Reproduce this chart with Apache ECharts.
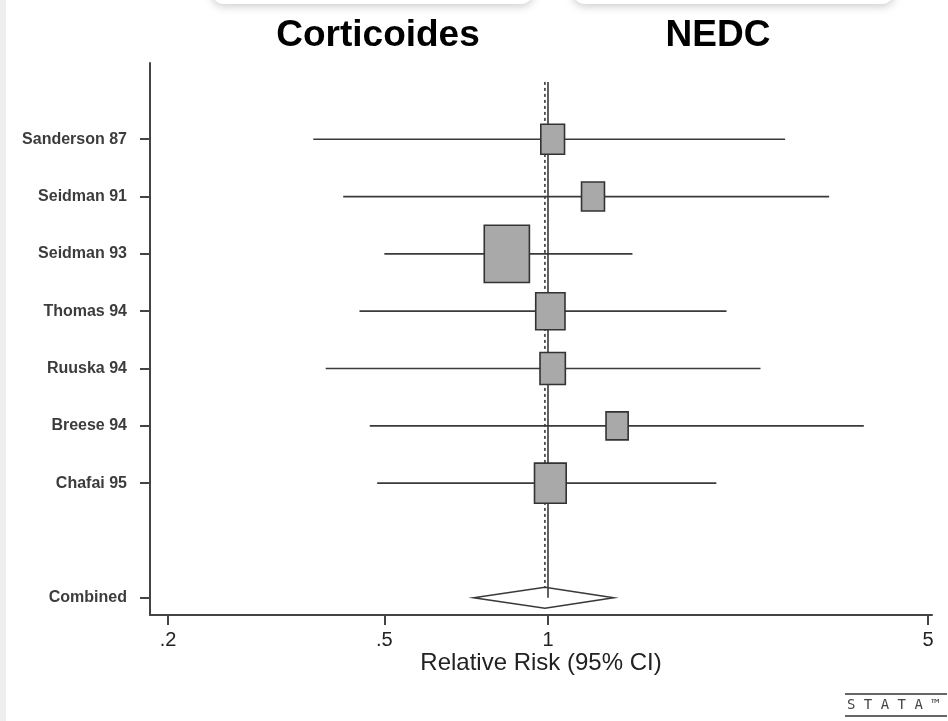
<!DOCTYPE html>
<html><head><meta charset="utf-8">
<script src="https://cdn.jsdelivr.net/npm/echarts@6/dist/echarts.min.js"></script>
<style>html,body{margin:0;padding:0;background:#fff}#c{width:948px;height:721px}</style>
</head><body><div id="c"></div>
<script>
// ---- data ----
const studies = ['Sanderson 87','Seidman 91','Seidman 93','Thomas 94','Ruuska 94','Breese 94','Chafai 95'];
const rr     = [1.02, 1.21, 0.84, 1.01, 1.02, 1.34, 1.01];
const ciLow  = [0.37, 0.42, 0.50, 0.45, 0.39, 0.47, 0.485];
const ciHigh = [2.73, 3.29, 1.43, 2.13, 2.46, 3.81, 2.04];
const weights = [9.2, 8.6, 33.3, 14.0, 10.5, 8.0, 16.4];
const rowPos = [1, 2, 3, 4, 5, 6, 7];
const combinedLabel = 'Combined';
const combinedPos = 9;
const combinedRR = 0.987, combinedLow = 0.73, combinedHigh = 1.32;
const nullValue = 1;
const xTicks = [0.2, 0.5, 1, 5];
const xTickLabels = ['.2', '.5', '1', '5'];
const panelTitles = ['Corticoides', 'NEDC'];
const xAxisTitle = 'Relative Risk (95% CI)';

// ---- chart ----
const BOX_K = 9.9, BOX_ASPECT = 0.79, DIAMOND_HALF_H = 10.5;
const yLabelMap = {};
rowPos.forEach((p, i) => yLabelMap[p] = studies[i]);
yLabelMap[combinedPos] = combinedLabel;
const yTickVals = rowPos.concat([combinedPos]);

const chart = echarts.init(document.getElementById('c'), null, {renderer: 'canvas'});
const ink = '#3a3a3a';

chart.setOption({
  animation: false,
  backgroundColor: '#fff',
  grid: {left: 150, right: 16, top: 63, bottom: 106},
  xAxis: {
    type: 'log', logBase: 10, min: 0.1853, max: 5.086,
    axisLine: {show: true, onZero: false, lineStyle: {color: '#444', width: 2}},
    axisTick: {show: true, length: 10, customValues: xTicks, lineStyle: {color: '#444', width: 2}},
    axisLabel: {customValues: xTicks, fontSize: 20, color: '#222', margin: 15, fontFamily: 'Liberation Sans, Arial, sans-serif',
      formatter: v => xTickLabels[xTicks.findIndex(t => Math.abs(t - v) < 1e-6)] ?? ''},
    splitLine: {show: false}, minorTick: {show: false},
    name: xAxisTitle, nameLocation: 'middle', nameGap: 36, nameMoveOverlap: false,
    nameTextStyle: {fontSize: 24, color: '#222', fontFamily: 'Liberation Sans, Arial, sans-serif'}
  },
  yAxis: {
    type: 'value', inverse: true, min: -0.33, max: 9.3,
    axisLine: {show: true, onZero: false, lineStyle: {color: '#444', width: 2}},
    axisTick: {show: true, length: 10, customValues: yTickVals, lineStyle: {color: '#444', width: 2}},
    axisLabel: {customValues: yTickVals, fontSize: 16, fontWeight: 'bold', color: '#3c3c3c', margin: 23,
      fontFamily: 'Liberation Sans, Arial, sans-serif', formatter: v => yLabelMap[Math.round(v)] || ''},
    splitLine: {show: false}
  },
  graphic: [
    {type: 'rect', left: 0, top: 0, shape: {width: 6, height: 721}, style: {fill: '#eeeeee'}, silent: true},
    {type: 'rect', x: 212, y: -36, shape: {width: 321, height: 40, r: 12}, style: {fill: '#fff', shadowBlur: 10, shadowColor: 'rgba(0,0,0,0.22)', shadowOffsetY: 2}, silent: true},
    {type: 'rect', x: 573, y: -36, shape: {width: 321, height: 40, r: 12}, style: {fill: '#fff', shadowBlur: 10, shadowColor: 'rgba(0,0,0,0.22)', shadowOffsetY: 2}, silent: true},
    {type: 'text', x: 378, y: 36, style: {text: panelTitles[0], fontSize: 37, fontWeight: 'bold', fill: '#000', align: 'center', verticalAlign: 'middle', fontFamily: 'Liberation Sans, Arial, sans-serif'}},
    {type: 'text', x: 718, y: 36, style: {text: panelTitles[1], fontSize: 37, fontWeight: 'bold', fill: '#000', align: 'center', verticalAlign: 'middle', fontFamily: 'Liberation Sans, Arial, sans-serif'}},
    {type: 'line', shape: {x1: 845, y1: 694, x2: 947, y2: 694}, style: {stroke: '#666', lineWidth: 2}},
    {type: 'line', shape: {x1: 845, y1: 716, x2: 947, y2: 716}, style: {stroke: '#666', lineWidth: 2}},
    {type: 'text', x: 847, y: 705, style: {text: 'S T A T A ™', fontSize: 14, fill: '#444', verticalAlign: 'middle', fontFamily: 'DejaVu Sans Mono, monospace'}}
  ],
  series: [
    {
      type: 'line', silent: true, symbol: 'none', z: 1,
      lineStyle: {color: ink, width: 1.6},
      data: [[nullValue, 0], [nullValue, combinedPos]]
    },
    {
      type: 'line', silent: true, symbol: 'none', z: 1,
      lineStyle: {color: ink, width: 1.6, type: [3, 3]},
      data: [[combinedRR, 0], [combinedRR, combinedPos - 0.18]]
    },
    {
      type: 'custom', z: 3,
      encode: {x: [0, 1, 2], y: 3},
      data: studies.map((s, i) => [ciLow[i], ciHigh[i], rr[i], rowPos[i], weights[i]]),
      renderItem: function (params, api) {
        const lo = api.coord([api.value(0), api.value(3)]);
        const hi = api.coord([api.value(1), api.value(3)]);
        const c = api.coord([api.value(2), api.value(3)]);
        const h = BOX_K * Math.sqrt(api.value(4));
        const w = h * BOX_ASPECT;
        return {type: 'group', children: [
          {type: 'line', shape: {x1: lo[0], y1: lo[1], x2: hi[0], y2: hi[1]}, style: {stroke: ink, lineWidth: 1.7}},
          {type: 'rect', shape: {x: c[0] - w / 2, y: c[1] - h / 2, width: w, height: h}, style: {fill: '#a9a9a9', stroke: '#333', lineWidth: 1.6}}
        ]};
      }
    },
    {
      type: 'custom', z: 3,
      encode: {x: [0, 1, 2], y: 3},
      data: [[combinedLow, combinedHigh, combinedRR, combinedPos]],
      renderItem: function (params, api) {
        const lo = api.coord([api.value(0), api.value(3)]);
        const hi = api.coord([api.value(1), api.value(3)]);
        const c = api.coord([api.value(2), api.value(3)]);
        return {type: 'polygon', shape: {points: [[lo[0], lo[1]], [c[0], c[1] - DIAMOND_HALF_H], [hi[0], hi[1]], [c[0], c[1] + DIAMOND_HALF_H]]},
          style: {fill: 'rgba(255,255,255,0)', stroke: ink, lineWidth: 1.6}};
      }
    }
  ]
});
</script></body></html>
